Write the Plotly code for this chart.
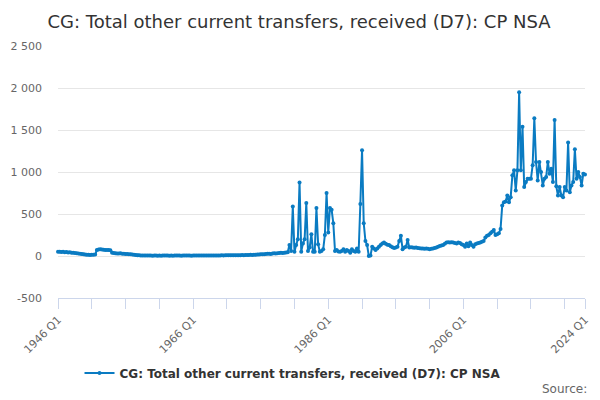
import plotly.graph_objects as go

years = list(range(1946, 2025))
values = [
    50, 52, 48, 50,      # 1946
    46, 47, 43, 44,      # 1947
    40, 38, 36, 34,      # 1948
    30, 28, 25, 22,      # 1949
    18, 15, 14, 13,      # 1950
    14, 15, 17, 70,      # 1951
    78, 80, 76, 74,      # 1952
    72, 70, 72, 68,      # 1953
    40, 35, 32, 30,      # 1954
    30, 32, 28, 27,      # 1955
    25, 24, 22, 20,      # 1956
    18, 15, 12, 10,      # 1957
    8, 7, 6, 6,          # 1958
    5, 6, 5, 5,          # 1959
    4, 5, 5, 4,          # 1960
    5, 4, 5, 5,          # 1961
    5, 5, 4, 5,          # 1962
    4, 5, 5, 5,          # 1963
    5, 4, 5, 6,          # 1964
    5, 5, 5, 4,          # 1965
    5, 6, 5, 5,          # 1966
    6, 5, 6, 6,          # 1967
    6, 6, 7, 6,          # 1968
    7, 6, 7, 7,          # 1969
    7, 8, 7, 8,          # 1970
    8, 8, 9, 8,          # 1971
    9, 9, 10, 9,         # 1972
    10, 11, 10, 12,      # 1973
    12, 13, 14, 13,      # 1974
    15, 16, 18, 17,      # 1975
    20, 22, 21, 24,      # 1976
    26, 28, 25, 30,      # 1977
    32, 30, 34, 36,      # 1978
    38, 35, 40, 42,      # 1979
    45, 130, 60, 590,    # 1980
    50, 130, 200, 875,   # 1981
    50, 150, 200, 630,   # 1982
    60, 100, 260, 50,    # 1983
    50, 570, 140, 50,    # 1984
    60, 80, 250, 750,    # 1985
    280, 570, 550, 390,  # 1986
    60, 70, 55, 50,      # 1987
    60, 80, 50, 70,      # 1988
    60, 40, 80, 60,      # 1989
    50, 90, 50, 620,     # 1990
    1260, 390, 180, 130, # 1991
    0, 5, 110, 90,       # 1992
    70, 90, 110, 130,    # 1993
    150, 160, 145, 135,  # 1994
    130, 115, 105, 95,   # 1995
    100, 110, 180, 240,  # 1996
    80, 100, 110, 190,   # 1997
    100, 105, 100, 98,   # 1998
    100, 95, 92, 90,     # 1999
    88, 85, 90, 85,      # 2000
    80, 85, 90, 95,      # 2001
    100, 110, 120, 125,  # 2002
    130, 145, 160, 165,  # 2003
    160, 165, 160, 155,  # 2004
    150, 160, 155, 140,  # 2005
    130, 110, 150, 115,  # 2006
    160, 130, 110, 140,  # 2007
    150, 155, 160, 170,  # 2008
    180, 220, 240, 250,  # 2009
    270, 290, 310, 250,  # 2010
    260, 270, 320, 600,  # 2011
    640, 650, 720, 640,  # 2012
    700, 960, 1020, 780, # 2013
    1020, 1950, 1020, 1540,  # 2014
    820, 880, 920, 920,  # 2015
    920, 1080, 1640, 1120,   # 2016
    900, 1120, 1000, 840,    # 2017
    920, 940, 1120, 980,     # 2018
    1040, 880, 1620, 830,    # 2019
    720, 820, 720, 700,      # 2020
    820, 780, 1350, 760,     # 2021
    840, 880, 1270, 920,     # 2022
    1000, 940, 840, 980,     # 2023
    970,                     # 2024 Q1
]

quarters = [f"{y} Q{q}" for y in years for q in range(1, 5)][:len(values)]
tick_years = [1946, 1951, 1956, 1961, 1966, 1971, 1976, 1981, 1986, 1991,
              1996, 2001, 2006, 2011, 2016, 2021, 2024]
label_years = [1946, 1966, 1986, 2006, 2024]
tick_vals = [f"{y} Q1" for y in tick_years]
tick_text = [f"{y} Q1" if y in label_years else "" for y in tick_years]

y_tick_vals = [-500, 0, 500, 1000, 1500, 2000, 2500]
y_tick_text = ["-500", "0", "500", "1 000", "1 500", "2 000", "2 500"]

series_name = "CG: Total other current transfers, received (D7): CP NSA"
line_color = "#0a7bc2"
font = "DejaVu Sans, Open Sans, sans-serif"

fig = go.Figure()
fig.add_trace(go.Scatter(
    x=quarters, y=values, mode="lines+markers", name=series_name,
    line=dict(color=line_color, width=2),
    marker=dict(color=line_color, size=4),
    cliponaxis=False,
))

fig.update_layout(
    width=600, height=400,
    margin=dict(l=49.5, r=23, t=38, b=110),
    paper_bgcolor="white", plot_bgcolor="white",
    font=dict(family=font, color="#666666", size=11),
    title=dict(text=series_name,
               x=0.485, xanchor="center", y=0.966, yanchor="middle",
               font=dict(family=font, size=18, color="#333333")),
    showlegend=True,
    legend=dict(orientation="h", x=0.445, xanchor="center", y=-0.298, yanchor="middle",
                font=dict(family=font, size=12, color="#333333", weight="bold"),
                itemwidth=30),
    xaxis=dict(type="category", categoryorder="array", categoryarray=quarters,
               range=[0, len(values) - 1], automargin=False,
               tickmode="array", tickvals=tick_vals, ticktext=tick_text,
               tickangle=-45, ticks="outside", ticklen=10, tickcolor="#ccd6eb",
               showline=True, linecolor="#ccd6eb", linewidth=1,
               showgrid=False, zeroline=False,
               tickfont=dict(family=font, size=11, color="#666666")),
    yaxis=dict(range=[-500, 2500], tickmode="array",
               tickvals=y_tick_vals, ticktext=y_tick_text, automargin=False,
               showgrid=True, gridcolor="#e6e6e6", gridwidth=1,
               zeroline=False, showline=False,
               ticks="", ticklabelstandoff=15,
               tickfont=dict(family=font, size=11, color="#666666")),
    annotations=[dict(text="Source:", xref="paper", yref="paper",
                      x=1.0076, xanchor="right", y=-0.361, yanchor="middle",
                      showarrow=False,
                      font=dict(family=font, size=12, color="#666666"))],
)

fig.write_html("out.html")
